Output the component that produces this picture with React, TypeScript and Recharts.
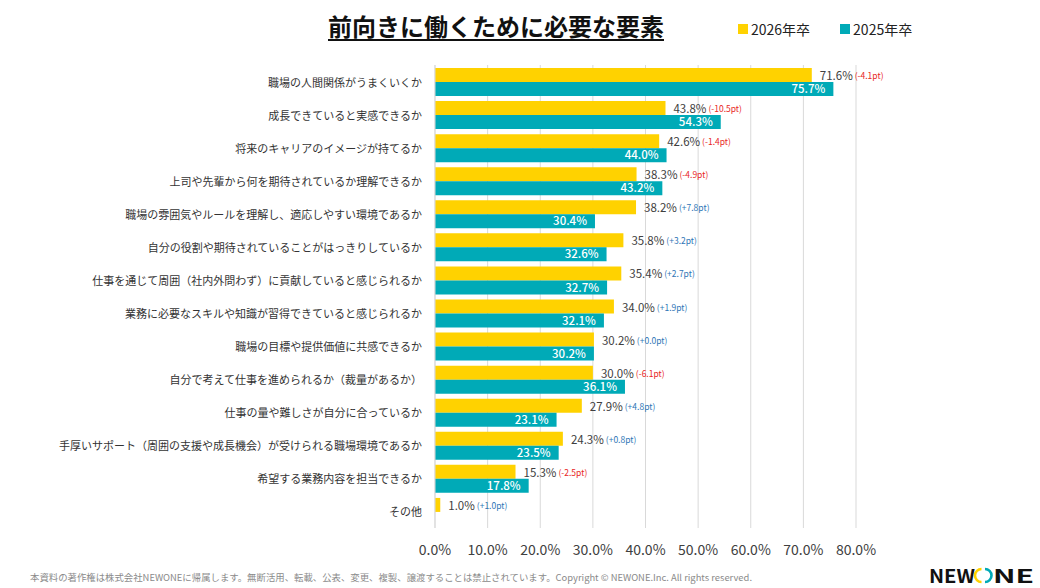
import React from "react";
import {
  BarChart,
  Bar,
  XAxis,
  YAxis,
  CartesianGrid,
  LabelList,
} from "recharts";

const JP = '"Noto Sans CJK JP", "Noto Sans", sans-serif';

const YELLOW = "#FFD200";
const TEAL = "#00AAB7";

const ITEMS = [
  "職場の人間関係がうまくいくか",
  "成長できていると実感できるか",
  "将来のキャリアのイメージが持てるか",
  "上司や先輩から何を期待されているか理解できるか",
  "職場の雰囲気やルールを理解し、適応しやすい環境であるか",
  "自分の役割や期待されていることがはっきりしているか",
  "仕事を通じて周囲（社内外問わず）に貢献していると感じられるか",
  "業務に必要なスキルや知識が習得できていると感じられるか",
  "職場の目標や提供価値に共感できるか",
  "自分で考えて仕事を進められるか（裁量があるか）",
  "仕事の量や難しさが自分に合っているか",
  "手厚いサポート（周囲の支援や成長機会）が受けられる職場環境であるか",
  "希望する業務内容を担当できるか",
  "その他",
];

const Y2026 = [71.6, 43.8, 42.6, 38.3, 38.2, 35.8, 35.4, 34.0, 30.2, 30.0, 27.9, 24.3, 15.3, 1.0];
const Y2025: (number | null)[] = [75.7, 54.3, 44.0, 43.2, 30.4, 32.6, 32.7, 32.1, 30.2, 36.1, 23.1, 23.5, 17.8, null];
const DIFF = [-4.1, -10.5, -1.4, -4.9, 7.8, 3.2, 2.7, 1.9, 0.0, -6.1, 4.8, 0.8, -2.5, 1.0];

const X_TICKS = [0, 10, 20, 30, 40, 50, 60, 70, 80];

const rows = ITEMS.map((name, i) => ({
  name,
  y2026: Y2026[i],
  y2025: Y2025[i],
  diff: DIFF[i],
}));

const pct = (v: number) => `${v.toFixed(1)}%`;
const pt = (d: number) => `(${d >= 0 ? "+" : ""}${d.toFixed(1)}pt)`;

// value + year-on-year difference, drawn to the right of the 2026 bar
function YellowLabel(props: any) {
  const { x, y, width, height, index } = props;
  const d = DIFF[index];
  return (
    <text
      x={x + width + 8}
      y={y + height / 2}
      dominantBaseline="central"
      fontFamily={JP}
    >
      <tspan fontSize={11.5} fill="#404040">
        {pct(Y2026[index])}
      </tspan>
      <tspan dx={2} fontSize={8.5} fill={d < 0 ? "#E8261E" : "#2E75B6"}>
        {pt(d)}
      </tspan>
    </text>
  );
}

function CategoryTick(props: any) {
  const { x, y, payload } = props;
  return (
    <text
      x={x}
      y={y}
      textAnchor="end"
      dominantBaseline="central"
      fontSize={11}
      fill="#333"
      fontFamily={JP}
    >
      {payload.value}
    </text>
  );
}

function Logo() {
  return (
    <svg
      width={114}
      height={28}
      style={{ position: "absolute", left: 926, top: 560 }}
    >
      <text
        x={3}
        y={23}
        fontSize={19}
        fontWeight={700}
        fontFamily={JP}
        fill="#111"
        textLength={46}
        lengthAdjust="spacingAndGlyphs"
      >
        NEW
      </text>
      <path d="M 55.5 9 A 6.5 6.5 0 0 0 55.5 22" fill="none" stroke={YELLOW} strokeWidth={2.6} />
      <path d="M 59 9 A 6.5 6.5 0 0 1 59 22" fill="none" stroke={TEAL} strokeWidth={2.6} />
      <text
        x={67}
        y={23}
        fontSize={19}
        fontWeight={700}
        fontFamily={JP}
        fill="#111"
        textLength={41}
        lengthAdjust="spacingAndGlyphs"
      >
        NE
      </text>
    </svg>
  );
}

export default function App() {
  return (
    <div
      style={{
        position: "absolute",
        left: 0,
        top: 0,
        width: 1040,
        height: 588,
        background: "#fff",
        fontFamily: JP,
      }}
    >
      <div
        style={{
          position: "absolute",
          left: 328,
          top: 8,
          fontSize: 24,
          fontWeight: 700,
          color: "#111",
          textDecoration: "underline",
          textUnderlineOffset: 3,
          whiteSpace: "nowrap",
        }}
      >
        前向きに働くために必要な要素
      </div>

      <div
        style={{
          position: "absolute",
          left: 738,
          top: 19,
          display: "flex",
          alignItems: "center",
          fontSize: 14,
          color: "#222",
        }}
      >
        <span style={{ width: 10, height: 10, background: YELLOW, marginRight: 3 }} />
        <span style={{ marginRight: 30 }}>2026年卒</span>
        <span style={{ width: 10, height: 10, background: TEAL, marginRight: 3 }} />
        <span>2025年卒</span>
      </div>

      <BarChart
        width={1040}
        height={588}
        data={rows}
        layout="vertical"
        margin={{ top: 65, right: 184, bottom: 0, left: 0 }}
        barGap={0}
        barSize={14}
      >
        <CartesianGrid horizontal={false} stroke="#D9D9D9" />
        <XAxis
          type="number"
          domain={[0, 80]}
          ticks={X_TICKS}
          tickFormatter={pct}
          axisLine={false}
          tickLine={false}
          tickMargin={11}
          height={60}
          tick={{ fontSize: 14, fill: "#404040", fontFamily: JP }}
        />
        <YAxis
          type="category"
          dataKey="name"
          width={435}
          tickLine={false}
          tickSize={0}
          tickMargin={13}
          axisLine={{ stroke: "#D9D9D9" }}
          tick={<CategoryTick />}
          interval={0}
        />
        <Bar dataKey="y2026" fill={YELLOW} isAnimationActive={false}>
          <LabelList dataKey="y2026" content={<YellowLabel />} />
        </Bar>
        <Bar dataKey="y2025" fill={TEAL} isAnimationActive={false}>
          <LabelList
            dataKey="y2025"
            position="insideRight"
            offset={8}
            formatter={(v: any) => (v == null ? "" : pct(Number(v)))}
            fill="#fff"
            fontSize={11.5}
            fontWeight={500}
            fontFamily={JP}
          />
        </Bar>
      </BarChart>

      <svg width={760} height={16} style={{ position: "absolute", left: 0, top: 570 }}>
        <text
          x={30}
          y={11}
          fontSize={9}
          fill="#8A8A8A"
          fontFamily={JP}
          textLength={722}
          lengthAdjust="spacingAndGlyphs"
        >
          本資料の著作権は株式会社NEWONEに帰属します。無断活用、転載、公表、変更、複製、譲渡することは禁止されています。Copyright © NEWONE.Inc.  All rights reserved.
        </text>
      </svg>

      <Logo />
    </div>
  );
}
